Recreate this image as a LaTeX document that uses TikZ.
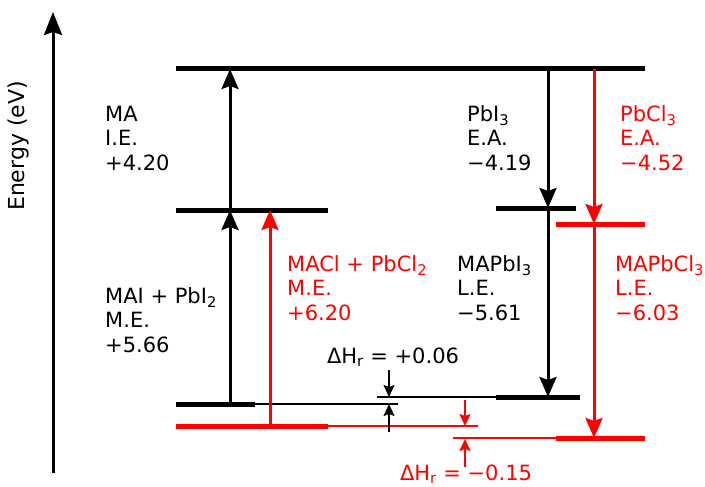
\documentclass[tikz,border=0pt]{standalone}
\usepackage{fontspec}
\setmainfont{DejaVu Sans}
\usetikzlibrary{arrows.meta}
\definecolor{clred}{HTML}{FF0000}
\definecolor{iink}{HTML}{000000}
\newcommand{\sbs}[1]{\textsubscript{#1}}
\tikzset{
  lev/.style={line width=5pt},
  guide/.style={line width=1.6pt},
  trans/.style={line width=3pt, -{Stealth[length=20pt,width=17pt,inset=3pt]}},
  small/.style={line width=1.6pt, -{Stealth[length=12pt,width=11pt,inset=2pt]}},
  lbl/.style={anchor=west, align=left, inner sep=0pt, font=\fontsize{21}{24.5}\selectfont},
}

\begin{document}
\begin{tikzpicture}[x=1pt, y=-1pt]
  \useasboundingbox (0,0) rectangle (705,487);

  % energy axis
  \coordinate (ax0) at (53,473);
  \coordinate (ax1) at (53,12);
  \draw[line width=3pt, -{Stealth[length=23pt,width=18pt,inset=3pt]}] (ax0) -- (ax1);
  \node[rotate=90, inner sep=0pt, font=\fontsize{22}{24.5}\selectfont] (axlbl) at (18,146) {Energy (eV)};

  % levels, left side
  \coordinate (gas-l) at (176,69);  \coordinate (gas-r) at (645,69);
  \coordinate (mai-l) at (176,210); \coordinate (mai-r) at (328,210);
  \coordinate (rI-l) at (176,404);  \coordinate (rI-m) at (255,404);  \coordinate (rI-r) at (398,404);
  \coordinate (rC-l) at (176,426);  \coordinate (rC-m) at (328,426);  \coordinate (rC-r) at (478,426);
  % levels, right side
  \coordinate (pbi-l) at (496,208); \coordinate (pbi-r) at (576,208);
  \coordinate (pbc-l) at (556,224); \coordinate (pbc-r) at (645,224);
  \coordinate (pI-g) at (377,397);  \coordinate (pI-l) at (496,397);  \coordinate (pI-r) at (580,397);
  \coordinate (pC-g) at (453,438);  \coordinate (pC-l) at (556,438);  \coordinate (pC-r) at (645,438);

  \draw[lev] (gas-l) -- (gas-r);
  \draw[lev] (mai-l) -- (mai-r);
  \draw[lev] (rI-l) -- (rI-m);
  \draw[guide] (rI-m) -- (rI-r);
  \draw[lev, clred] (rC-l) -- (rC-m);
  \draw[guide, clred] (rC-m) -- (rC-r);
  \draw[lev] (pbi-l) -- (pbi-r);
  \draw[lev, clred] (pbc-l) -- (pbc-r);
  \draw[guide] (pI-g) -- (pI-l);
  \draw[lev] (pI-l) -- (pI-r);
  \draw[guide, clred] (pC-g) -- (pC-l);
  \draw[lev, clred] (pC-l) -- (pC-r);

  % transitions
  \draw[trans] (230,210) -- (230,69);
  \draw[trans] (230,404) -- (230,210);
  \draw[trans, clred] (270,426) -- (270,210);
  \draw[trans] (548,69) -- (548,208);
  \draw[trans] (548,208) -- (548,397);
  \draw[trans, clred] (594,69) -- (594,224);
  \draw[trans, clred] (594,224) -- (594,438);

  % reaction enthalpies
  \draw[small] (389,370) -- (389,397);
  \draw[small] (389,432) -- (389,404);
  \draw[small, clred] (465,400) -- (465,426);
  \draw[small, clred] (465,467) -- (465,439);
  \node[inner sep=0pt, font=\fontsize{21}{24.5}\selectfont] (dhI) at (393,357) {ΔH\sbs{r} = +0.06};
  \node[inner sep=0pt, font=\fontsize{21}{24.5}\selectfont, text=clred] (dhC) at (466,474) {ΔH\sbs{r} = −0.15};

  % labels
  \node[lbl] (ie) at (105,138) {MA\\I.E.\\+4.20};
  \node[lbl] (meI) at (105,320) {MAI + PbI\sbs{2}\\M.E.\\+5.66};
  \node[lbl, text=clred] (meC) at (287,288) {MACl + PbCl\sbs{2}\\M.E.\\+6.20};
  \node[lbl] (eaI) at (467,138) {PbI\sbs{3}\\E.A.\\−4.19};
  \node[lbl, text=clred] (eaC) at (620,138) {PbCl\sbs{3}\\E.A.\\−4.52};
  \node[lbl] (leI) at (457,288) {MAPbI\sbs{3}\\L.E.\\−5.61};
  \node[lbl, text=clred] (leC) at (615,288) {MAPbCl\sbs{3}\\L.E.\\−6.03};
\end{tikzpicture}
\end{document}
